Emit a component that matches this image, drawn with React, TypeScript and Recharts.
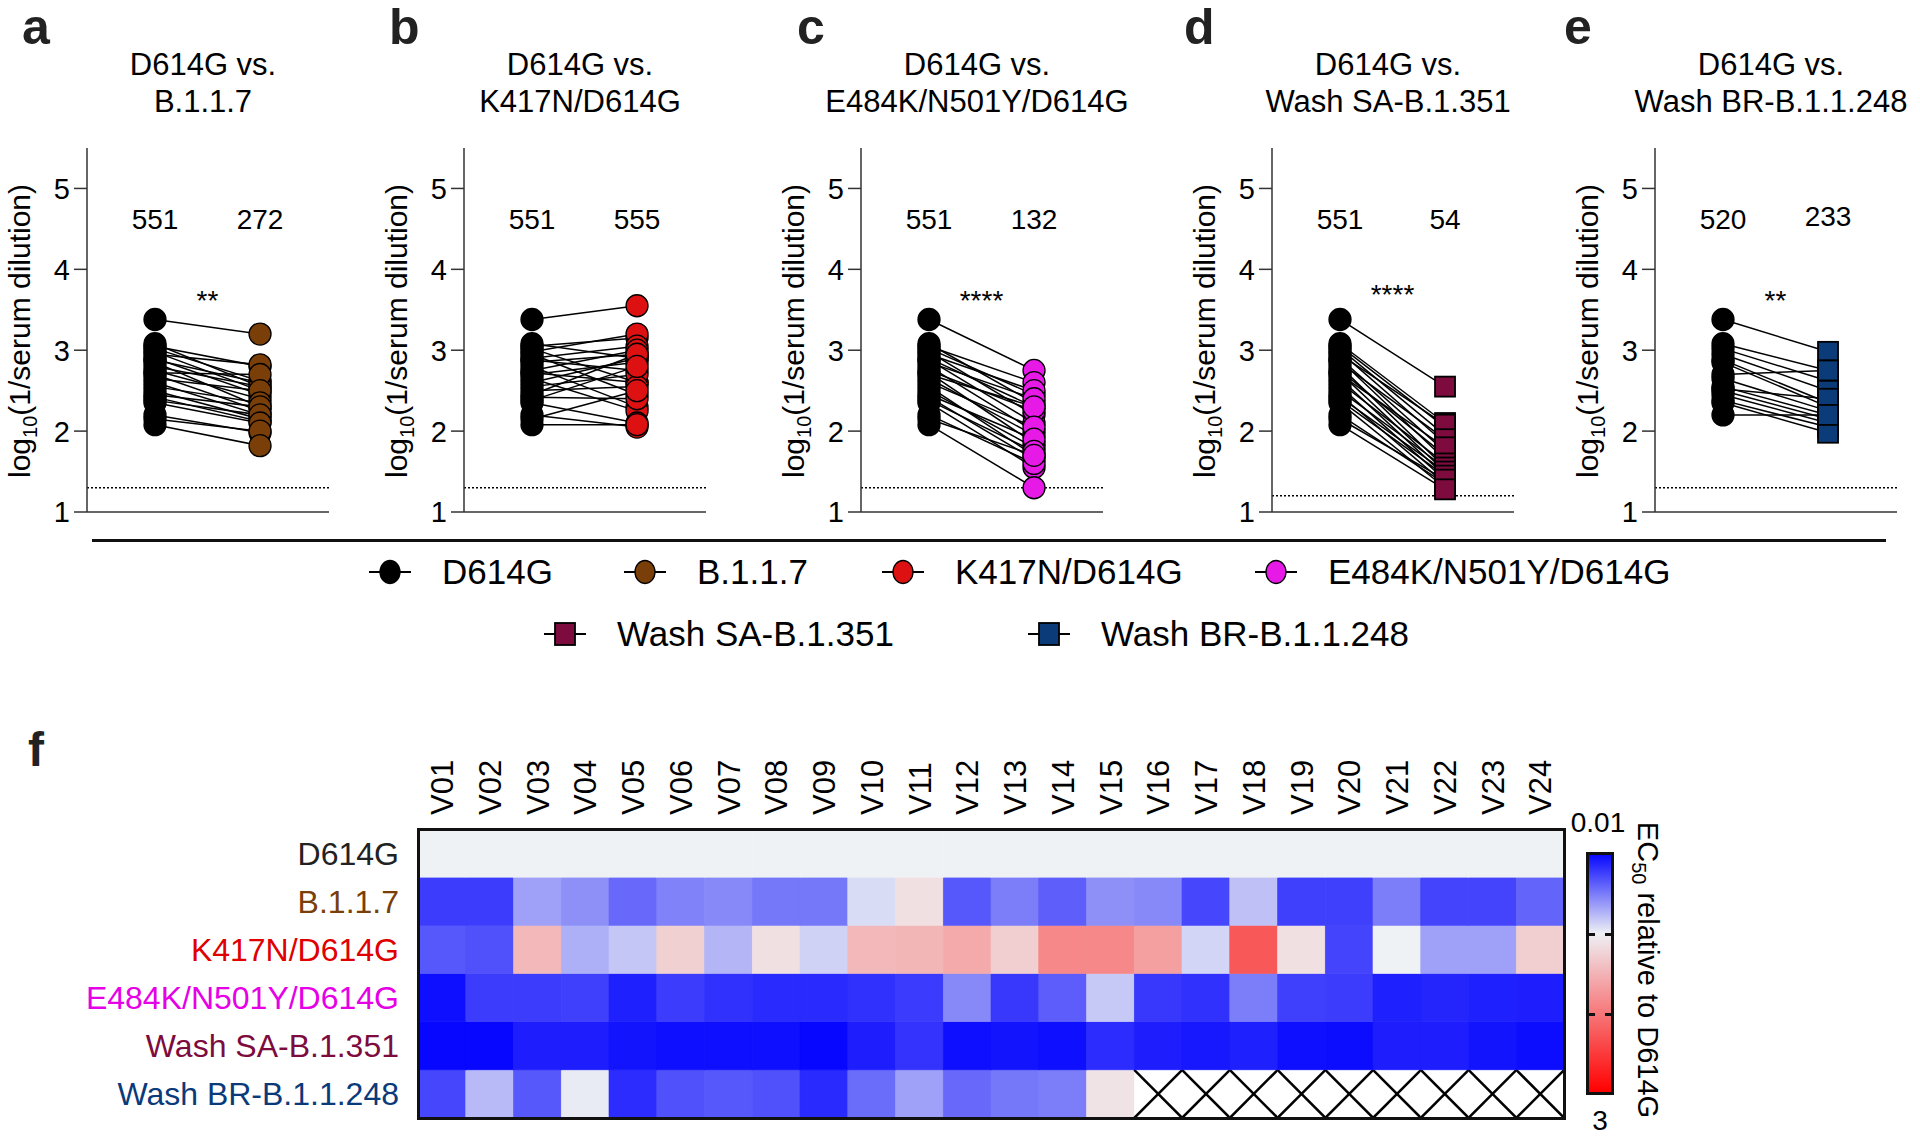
import React from "react";
import {
  ComposedChart,
  Line,
  Scatter,
  XAxis,
  YAxis,
  ReferenceLine,
  ReferenceDot,
  BarChart,
  Bar,
} from "recharts";

const FONT = "'Liberation Sans', Arial, Helvetica, sans-serif";

// log10(1/serum dilution) per donor
const d614g = [3.38, 3.08, 3.05, 3.02, 2.98, 2.95, 2.9, 2.88, 2.85, 2.8, 2.75, 2.72, 2.7, 2.65, 2.6, 2.55, 2.5, 2.45, 2.42, 2.38, 2.35, 2.2, 2.15, 2.08];
const b117 = [3.2, 2.55, 2.8, 2.62, 2.5, 2.82, 2.45, 2.6, 2.3, 2.55, 2.4, 2.7, 2.25, 2.5, 2.2, 2.35, 2.15, 2.3, 2.12, 2.2, 2.1, 1.98, 2.0, 1.82];
const k417n = [3.55, 2.9, 3.15, 2.6, 3.2, 2.45, 3.05, 2.75, 2.95, 2.3, 3.0, 2.6, 2.85, 2.25, 2.9, 2.7, 2.55, 2.95, 2.4, 2.8, 2.1, 2.05, 2.5, 2.08];
const e484k = [2.75, 2.35, 2.6, 2.45, 2.2, 2.5, 2.3, 2.1, 2.4, 2.0, 2.25, 1.85, 2.3, 1.95, 2.05, 1.7, 1.8, 1.9, 1.65, 1.75, 1.55, 1.6, 1.7, 1.3];
const washSA = [2.55, 2.1, 2.05, 1.95, 1.85, 2.08, 1.75, 1.65, 1.9, 1.55, 1.7, 1.5, 1.8, 1.45, 1.6, 1.4, 1.55, 1.35, 1.5, 1.45, 1.3, 1.35, 1.4, 1.28];
const d614gE = [3.38, 3.08, 3.02, 2.95, 2.88, 2.85, 2.7, 2.65, 2.55, 2.52, 2.5, 2.45, 2.38, 2.35, 2.2];
const washBR = [2.98, 2.75, 2.62, 2.5, 2.35, 2.3, 2.75, 2.25, 2.2, 2.4, 2.15, 2.1, 2.05, 1.98, 2.2];

const yTicks = [1, 2, 3, 4, 5];

// heatmap: EC50 relative to D614G
const donors = ["V01", "V02", "V03", "V04", "V05", "V06", "V07", "V08", "V09", "V10", "V11", "V12", "V13", "V14", "V15", "V16", "V17", "V18", "V19", "V20", "V21", "V22", "V23", "V24"];
const hmD614G = [1, 1, 1, 1, 1, 1, 1, 1, 1, 1, 1, 1, 1, 1, 1, 1, 1, 1, 1, 1, 1, 1, 1, 1];
const hmB117 = [0.26, 0.26, 0.67, 0.6, 0.44, 0.54, 0.57, 0.5, 0.5, 0.91, 1.15, 0.37, 0.52, 0.4, 0.6, 0.57, 0.3, 0.8, 0.27, 0.27, 0.52, 0.29, 0.29, 0.42];
const hmK417N = [0.37, 0.34, 1.48, 0.73, 0.82, 1.28, 0.75, 1.15, 0.87, 1.48, 1.5, 1.6, 1.3, 1.88, 1.88, 1.68, 0.88, 2.27, 1.15, 0.29, 1.0, 0.67, 0.67, 1.3];
const hmE484K = [0.07, 0.26, 0.26, 0.27, 0.14, 0.26, 0.21, 0.18, 0.18, 0.21, 0.25, 0.57, 0.24, 0.39, 0.83, 0.24, 0.21, 0.52, 0.27, 0.26, 0.14, 0.16, 0.14, 0.13];
const hmWashSA = [0.04, 0.04, 0.13, 0.13, 0.09, 0.07, 0.07, 0.07, 0.04, 0.13, 0.22, 0.07, 0.09, 0.07, 0.19, 0.13, 0.11, 0.14, 0.07, 0.06, 0.13, 0.13, 0.09, 0.06];
const hmWashBR = [0.3, 0.77, 0.37, 0.97, 0.19, 0.34, 0.37, 0.34, 0.18, 0.45, 0.67, 0.44, 0.5, 0.52, 1.12, null, null, null, null, null, null, null, null, null];

const rowNames = ["D614G", "B.1.1.7", "K417N/D614G", "E484K/N501Y/D614G", "Wash SA-B.1.351", "Wash BR-B.1.1.248"];
const rowColors = ["#222222", "#7a3f08", "#e00000", "#e600e6", "#7d0b3d", "#0a3a7a"];
const rowValues = [hmD614G, hmB117, hmK417N, hmE484K, hmWashSA, hmWashBR];

const panels = [
  { letter: "a", axisX: 87, title: "B.1.1.7", base: d614g, variant: b117, color: "#7a3f08", square: false, lod: 1.3, gm: ["551", "272"], gmY: [4.62, 4.62], stars: "**", starY: 3.62 },
  { letter: "b", axisX: 464, title: "K417N/D614G", base: d614g, variant: k417n, color: "#dd1111", square: false, lod: 1.3, gm: ["551", "555"], gmY: [4.62, 4.62], stars: "", starY: 3.62 },
  { letter: "c", axisX: 861, title: "E484K/N501Y/D614G", base: d614g, variant: e484k, color: "#e619e6", square: false, lod: 1.3, gm: ["551", "132"], gmY: [4.62, 4.62], stars: "****", starY: 3.62 },
  { letter: "d", axisX: 1272, title: "Wash SA-B.1.351", base: d614g, variant: washSA, color: "#7d0b3d", square: true, lod: 1.2, gm: ["551", "54"], gmY: [4.62, 4.62], stars: "****", starY: 3.7 },
  { letter: "e", axisX: 1655, title: "Wash BR-B.1.1.248", base: d614gE, variant: washBR, color: "#0b3b78", square: true, lod: 1.3, gm: ["520", "233"], gmY: [4.62, 4.66], stars: "**", starY: 3.62 },
];

const legendItems = [
  { name: "D614G", color: "#000", square: false, x: 390, row: 0 },
  { name: "B.1.1.7", color: "#7a3f08", square: false, x: 645, row: 0 },
  { name: "K417N/D614G", color: "#dd1111", square: false, x: 903, row: 0 },
  { name: "E484K/N501Y/D614G", color: "#e619e6", square: false, x: 1276, row: 0 },
  { name: "Wash SA-B.1.351", color: "#7d0b3d", square: true, x: 565, row: 1 },
  { name: "Wash BR-B.1.1.248", color: "#0b3b78", square: true, x: 1049, row: 1 },
];

const letterPos: Record<string, number> = { a: 22, b: 389, c: 797, d: 1184, e: 1564 };

const XA = 0.281;
const XB = 0.715;

function lerp(a: number, b: number, t: number) {
  return Math.round(a + (b - a) * t);
}

function heatColor(v: number) {
  if (v <= 1) {
    const t = Math.max(0, (v - 0.01) / 0.99);
    return `rgb(${lerp(0, 239, t)},${lerp(0, 242, t)},${lerp(255, 244, t)})`;
  }
  const s = Math.min(1, (v - 1) / 2);
  return `rgb(${lerp(239, 255, s)},${lerp(242, 0, s)},${lerp(244, 0, s)})`;
}

function YLabel(props: any) {
  const vb = props.viewBox || { x: 0, y: 0, width: 0, height: 0 };
  const cx = vb.x + vb.width - 57;
  const cy = vb.y + vb.height / 2 + 1;
  return (
    <text x={cx} y={cy} transform={`rotate(-90, ${cx}, ${cy})`} textAnchor="middle" fontSize={30} fontFamily={FONT} fill="#000">
      log<tspan dy={7} fontSize={20}>10</tspan>
      <tspan dy={-7}>(1/serum dilution)</tspan>
    </text>
  );
}

function YTick(props: any) {
  const { x, y, payload } = props;
  return (
    <text x={x} y={y} dy="0.36em" textAnchor="end" fontSize={29} fontFamily={FONT} fill="#000">
      {payload.value}
    </text>
  );
}

function marker(color: string, square: boolean) {
  return (props: any) => {
    const { cx, cy } = props;
    if (square) {
      return <rect x={cx - 10} y={cy - 10} width={20} height={20} fill={color} stroke="#000" strokeWidth={1.8} />;
    }
    return <circle cx={cx} cy={cy} r={11} fill={color} stroke="#000" strokeWidth={1.3} />;
  };
}

function PairPanel({ p }: { p: (typeof panels)[number] }) {
  const baseDots = p.base.map((y) => ({ x: XA, y }));
  const varDots = p.variant.map((y) => ({ x: XB, y }));
  const label = (value: string) => ({ value, position: "center" as const, fontSize: 28, fill: "#000", fontFamily: FONT });
  return (
    <>
      <div style={{ position: "absolute", left: letterPos[p.letter], top: 2, fontSize: 50, lineHeight: "50px", fontWeight: 700, color: "#222" }}>{p.letter}</div>
      <div style={{ position: "absolute", left: p.axisX + 116 - 200, width: 400, top: 46, textAlign: "center", fontSize: 31, lineHeight: "37px" }}>
        D614G vs.
        <br />
        {p.title}
      </div>
      <div style={{ position: "absolute", left: p.axisX - 95, top: 128 }}>
        <ComposedChart width={341} height={404} margin={{ top: 20, right: 4, bottom: 0, left: 0 }}>
          <XAxis type="number" dataKey="x" domain={[0, 1]} tick={false} tickLine={false} height={20} stroke="#333" strokeWidth={1.5} allowDataOverflow />
          <YAxis
            type="number"
            dataKey="y"
            domain={[1, 5.5]}
            ticks={yTicks}
            interval={0}
            width={95}
            tickSize={13}
            tickMargin={4}
            stroke="#333"
            strokeWidth={1.5}
            tick={<YTick />}
            label={<YLabel />}
            allowDataOverflow
          />
          <ReferenceLine y={p.lod} stroke="#000" strokeDasharray="2 2" strokeWidth={1.5} />
          {p.base.map((b, i) => (
            <Line
              key={i}
              data={[
                { x: XA, y: b },
                { x: XB, y: p.variant[i] },
              ]}
              dataKey="y"
              type="linear"
              stroke="#000"
              strokeWidth={1.5}
              dot={false}
              activeDot={false}
              isAnimationActive={false}
            />
          ))}
          <Scatter data={baseDots} dataKey="y" shape={marker("#000", false)} isAnimationActive={false} />
          <Scatter data={varDots} dataKey="y" shape={marker(p.color, p.square)} isAnimationActive={false} />
          <ReferenceDot x={XA} y={p.gmY[0]} r={0} stroke="none" label={label(p.gm[0])} />
          <ReferenceDot x={XB} y={p.gmY[1]} r={0} stroke="none" label={label(p.gm[1])} />
          {p.stars ? <ReferenceDot x={(XA + XB) / 2} y={p.starY} r={0} stroke="none" label={label(p.stars)} /> : null}
        </ComposedChart>
      </div>
    </>
  );
}

function cellShape(row: number) {
  return (props: any) => {
    const { x, y, width, height, index } = props;
    const v = rowValues[row][index];
    if (v == null) {
      return (
        <g>
          <rect x={x} y={y} width={width} height={height} fill="#fff" />
          <line x1={x} y1={y} x2={x + width} y2={y + height} stroke="#000" strokeWidth={2.5} />
          <line x1={x + width} y1={y} x2={x} y2={y + height} stroke="#000" strokeWidth={2.5} />
        </g>
      );
    }
    const c = heatColor(v);
    return <rect x={x} y={y} width={width} height={height} fill={c} stroke={c} strokeWidth={0.6} />;
  };
}

function ColTick(props: any) {
  const { x, y, payload } = props;
  return (
    <text x={x} y={y} transform={`rotate(-90, ${x}, ${y})`} dy="0.36em" textAnchor="start" fontSize={31} fontFamily={FONT} fill="#000">
      {payload.value}
    </text>
  );
}

function RowTick(props: any) {
  const { x, y, payload } = props;
  const j = 5 - Math.floor(payload.value);
  return (
    <text x={x} y={y} dy="0.36em" textAnchor="end" fontSize={32} fontFamily={FONT} fill={rowColors[j]}>
      {rowNames[j]}
    </text>
  );
}

function Heatmap() {
  const data = donors.map((name) => {
    const o: any = { name };
    rowNames.forEach((_, j) => {
      o["r" + j] = 1;
    });
    return o;
  });
  const order = [5, 4, 3, 2, 1, 0];
  return (
    <div style={{ position: "absolute", left: 0, top: 749 }}>
      <BarChart width={1570} height={369} data={data} margin={{ top: 0, right: 6, bottom: 0, left: 0 }} barCategoryGap={0} barGap={0}>
        <XAxis dataKey="name" orientation="top" interval={0} height={80} tickLine={false} axisLine={false} tickSize={0} tickMargin={14} tick={<ColTick />} />
        <YAxis type="number" domain={[0, 6]} ticks={[0.5, 1.5, 2.5, 3.5, 4.5, 5.5]} interval={0} width={418} tickLine={false} axisLine={false} tickSize={0} tickMargin={19} tick={<RowTick />} />
        {order.map((j) => (
          <Bar key={j} dataKey={"r" + j} stackId="h" shape={cellShape(j)} isAnimationActive={false} />
        ))}
      </BarChart>
    </div>
  );
}

function LegendMarker({ color, square }: { color: string; square: boolean }) {
  return (
    <svg width={46} height={28} style={{ display: "block" }}>
      <line x1={2} y1={14} x2={44} y2={14} stroke="#000" strokeWidth={2} />
      {square ? (
        <rect x={13} y={3} width={20} height={22} fill={color} stroke="#000" strokeWidth={1.8} />
      ) : (
        <ellipse cx={23} cy={14} rx={10} ry={11.5} fill={color} stroke="#000" strokeWidth={1.3} />
      )}
    </svg>
  );
}

export default function App() {
  return (
    <div style={{ position: "absolute", left: 0, top: 0, width: 1920, height: 1136, overflow: "hidden", background: "#fff", fontFamily: FONT, color: "#000" }}>
      {panels.map((p) => (
        <PairPanel key={p.letter} p={p} />
      ))}

      <div style={{ position: "absolute", left: 92, top: 539, width: 1794, height: 2.5, background: "#111" }} />

      {legendItems.map((it) => (
        <div key={it.name} style={{ position: "absolute", left: it.x - 23, top: (it.row === 0 ? 572 : 634) - 22, height: 44, display: "flex", alignItems: "center", fontSize: 35, whiteSpace: "nowrap" }}>
          <LegendMarker color={it.color} square={it.square} />
          <span style={{ marginLeft: 29 }}>{it.name}</span>
        </div>
      ))}

      <div style={{ position: "absolute", left: 28, top: 726, fontSize: 48, lineHeight: "48px", fontWeight: 700, color: "#222" }}>f</div>

      <Heatmap />
      <div style={{ position: "absolute", left: 416.5, top: 827.5, width: 1149, height: 292, border: "3px solid #111", boxSizing: "border-box", pointerEvents: "none" }} />

      {/* colour bar */}
      <div
        style={{
          position: "absolute",
          left: 1586,
          top: 852,
          width: 28,
          height: 243,
          border: "3px solid #111",
          boxSizing: "border-box",
          background: "linear-gradient(to bottom, #0a0aff 0%, #eef0f4 33.1%, #ff0000 100%)",
        }}
      >
        {[33.1, 66.5].map((t) => (
          <React.Fragment key={t}>
            <div style={{ position: "absolute", left: 0, top: `${t}%`, width: 6, height: 3, background: "#111" }} />
            <div style={{ position: "absolute", right: 0, top: `${t}%`, width: 6, height: 3, background: "#111" }} />
          </React.Fragment>
        ))}
      </div>
      <div style={{ position: "absolute", left: 1548, width: 100, top: 806, textAlign: "center", fontSize: 28, lineHeight: "34px" }}>0.01</div>
      <div style={{ position: "absolute", left: 1550, width: 100, top: 1104, textAlign: "center", fontSize: 28, lineHeight: "34px" }}>3</div>
      <div
        style={{
          position: "absolute",
          left: 1648 - 200,
          top: 970 - 18,
          width: 400,
          height: 36,
          lineHeight: "36px",
          textAlign: "center",
          fontSize: 29,
          transform: "rotate(90deg)",
          whiteSpace: "nowrap",
        }}
      >
        EC<sub style={{ fontSize: 20, verticalAlign: "-6px" }}>50</sub> relative to D614G
      </div>
    </div>
  );
}
